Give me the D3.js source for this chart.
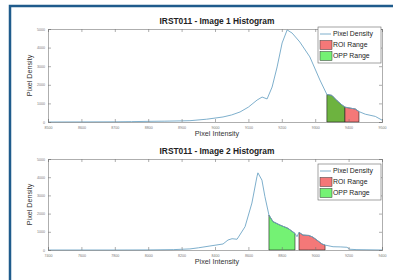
<!DOCTYPE html>
<html><head><meta charset="utf-8">
<script src="https://cdn.jsdelivr.net/npm/d3@7"></script>
<style>body{margin:0;background:#fff}svg{display:block;font-family:"Liberation Sans",Arial,sans-serif}</style>
</head><body><svg id="c" width="393" height="280"></svg>
<script>
// ---- data ----
const titles = ["IRST011 - Image 1 Histogram", "IRST011 - Image 2 Histogram"];
const yTicks = [0, 1000, 2000, 3000, 4000, 5000];
const img1Ticks = [8500, 8600, 8700, 8800, 8900, 9000, 9100, 9200, 9300, 9400, 9500];
const img2Ticks = [7400, 7600, 7800, 8000, 8200, 8400, 8600, 8800, 9000, 9200, 9400];
const img1X = [8500, 8600, 8700, 8750, 8800, 8850, 8900, 8925, 8975, 9024, 9050, 9075, 9100, 9126, 9141, 9156, 9171, 9186, 9201, 9216, 9231, 9254, 9284, 9314, 9335, 9350, 9365, 9380, 9389, 9400, 9420, 9431, 9450, 9480, 9500];
const img1Y = [0, 5, 10, 20, 35, 45, 60, 70, 150, 270, 380, 540, 800, 1180, 1340, 1240, 1880, 2960, 4250, 4950, 4780, 4300, 3500, 2260, 1480, 1430, 1150, 920, 800, 760, 700, 560, 420, 300, 100];
const img2X = [7400, 7800, 8000, 8150, 8200, 8250, 8300, 8370, 8448, 8478, 8502, 8532, 8580, 8621, 8651, 8657, 8681, 8699, 8723, 8747, 8789, 8837, 8879, 8891, 8903, 8927, 8960, 8981, 8999, 9041, 9059, 9107, 9150, 9190, 9208, 9250, 9400];
const img2Y = [0, 0, 5, 20, 40, 60, 120, 220, 330, 550, 620, 590, 1280, 2580, 4020, 4240, 3840, 2930, 1920, 1560, 1370, 1190, 910, 730, 970, 820, 800, 730, 620, 330, 270, 180, 170, 150, 40, 20, 0];
const img1Opp = [9335, 9389], img1Roi = [9389, 9431];
const img2Opp = [8723, 8879], img2Roi = [8903, 9059];
const legendLabels = ["Pixel Density", "ROI Range", "OPP Range"];

// ---- drawing ----
const svg = d3.select("#c");
svg.append("rect").attr("x",10).attr("y",6).attr("width",400).attr("height",300)
  .attr("fill","#fff").attr("stroke","#1f5b8c").attr("stroke-width",2.5);

const lineCol = "#6fa6c6", roiCol = "#f47878", oppCols = ["#6db33f", "#74f274"];

function interp(xs, ys, x){
  const i = d3.bisectRight(xs, x);
  if (i <= 0) return ys[0];
  if (i >= xs.length) return ys[ys.length-1];
  const t = (x - xs[i-1]) / (xs[i] - xs[i-1]);
  return ys[i-1] + t*(ys[i]-ys[i-1]);
}

function panel(cfg){
  const {top, bottom, left, right, xs, ys, ticks, opp, roi, title, oppCol, legY} = cfg;
  const x = d3.scaleLinear().domain([ticks[0], ticks[ticks.length-1]]).range([left, right]);
  const y = d3.scaleLinear().domain([0, 5000]).range([bottom, top]);
  const g = svg.append("g");
  function region(r, col){
    const pts = [[r[0], interp(xs, ys, r[0])]];
    xs.forEach((v,i)=>{ if (v>r[0] && v<r[1]) pts.push([v, ys[i]]); });
    pts.push([r[1], interp(xs, ys, r[1])]);
    g.append("path").datum(pts)
      .attr("d", d3.area().x(d=>x(d[0])).y0(y(0)).y1(d=>y(d[1])))
      .attr("fill", col).attr("stroke","#222").attr("stroke-width",0.6);
  }
  region(opp, oppCol);
  region(roi, roiCol);
  g.append("path").datum(xs.map((v,i)=>[v, ys[i]]))
    .attr("d", d3.line().x(d=>x(d[0])).y(d=>y(d[1])))
    .attr("fill","none").attr("stroke",lineCol).attr("stroke-width",0.9);
  const ax = d3.axisBottom(x).tickValues(ticks).tickSize(-3).tickPadding(4).tickFormat(d3.format("d"));
  const axT = d3.axisTop(x).tickValues(ticks).tickSize(-3).tickFormat("");
  const ay = d3.axisLeft(y).tickValues(yTicks).tickSize(-3).tickPadding(3).tickFormat(d3.format("d"));
  const ayR = d3.axisRight(y).tickValues(yTicks).tickSize(-3).tickFormat("");
  const style = s => { s.selectAll("path,line").attr("stroke","#777").attr("stroke-width",0.6);
    s.selectAll("text").attr("fill","#777").attr("font-size",3.6); };
  g.append("g").attr("transform",`translate(0,${bottom})`).call(ax).call(style);
  g.append("g").attr("transform",`translate(0,${top})`).call(axT).call(style);
  g.append("g").attr("transform",`translate(${left},0)`).call(ay).call(style);
  g.append("g").attr("transform",`translate(${right},0)`).call(ayR).call(style);
  g.append("text").attr("x",(left+right)/2+2).attr("y",top-5).attr("text-anchor","middle")
    .attr("font-size",8.4).attr("font-weight","bold").attr("fill","#222").text(title);
  g.append("text").attr("x",(left+right)/2+2).attr("y",bottom+14).attr("text-anchor","middle")
    .attr("font-size",7.2).attr("fill","#333").text("Pixel Intensity");
  g.append("text").attr("transform",`translate(32,${(top+bottom)/2}) rotate(-90)`).attr("text-anchor","middle")
    .attr("font-size",7.2).attr("fill","#333").text("Pixel Density");
  const lx = 318, lw = 63, lh = 36;
  const lg = g.append("g").attr("transform",`translate(${lx},${legY})`);
  lg.append("rect").attr("width",lw).attr("height",lh).attr("fill","#fff").attr("stroke","#666").attr("stroke-width",0.6);
  const cols = [null, roiCol, oppCols[1]];
  legendLabels.forEach((lab,i)=>{
    const cy = 7 + i*11;
    if (i===0) lg.append("line").attr("x1",2).attr("x2",13).attr("y1",cy).attr("y2",cy).attr("stroke",lineCol).attr("stroke-width",0.9);
    else lg.append("rect").attr("x",2).attr("y",cy-4.5).attr("width",12).attr("height",9).attr("fill",cols[i]).attr("stroke","#333").attr("stroke-width",0.5);
    lg.append("text").attr("x",15).attr("y",cy+2.4).attr("font-size",6.9).attr("fill","#222").text(lab);
  });
}

panel({top:29, bottom:122, left:48, right:382, xs:img1X, ys:img1Y, ticks:img1Ticks, opp:img1Opp, roi:img1Roi, title:titles[0], oppCol:oppCols[0], legY:27});
panel({top:159, bottom:250, left:48, right:382, xs:img2X, ys:img2Y, ticks:img2Ticks, opp:img2Opp, roi:img2Roi, title:titles[1], oppCol:oppCols[1], legY:164});
</script></body></html>
